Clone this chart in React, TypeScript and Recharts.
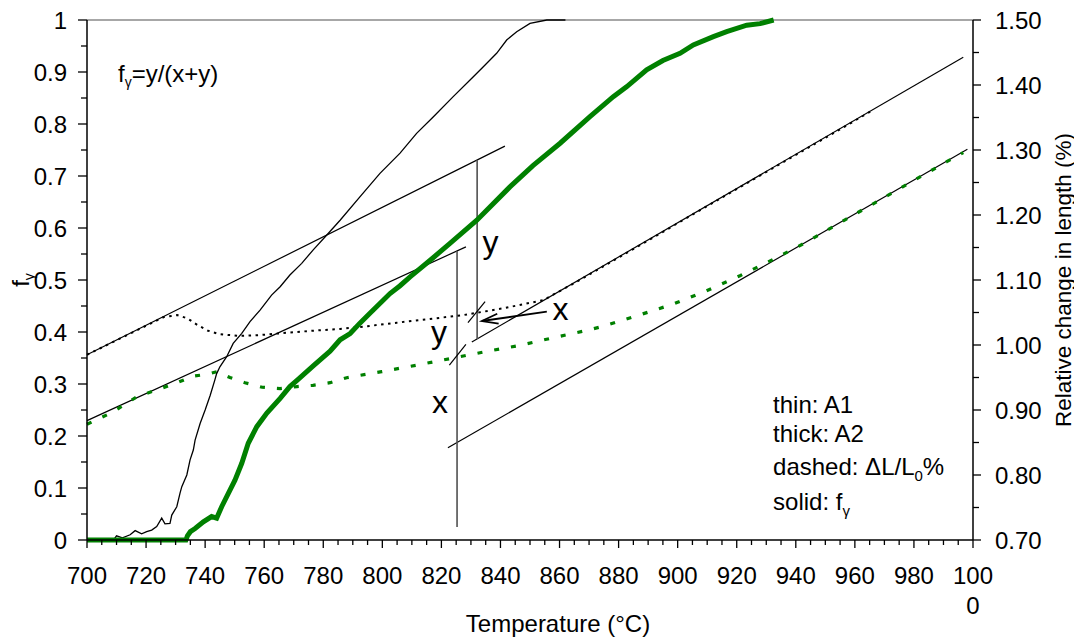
import {
  ComposedChart,
  Line,
  ReferenceDot,
  ReferenceLine,
  XAxis,
  YAxis,
} from 'recharts';

type Pt = [number, number];

// austenite fraction f_gamma vs temperature (left axis)
const fA1: Pt[] = [
  [700, 0], [709, 0], [710, 0.008], [712, 0.004], [714.6, 0.01], [716.3, 0.018],
  [718.5, 0.012], [720.2, 0.016], [721.9, 0.019], [723.6, 0.026], [725.3, 0.042],
  [726.4, 0.031], [728.1, 0.032], [728.7, 0.048], [730.4, 0.064], [731.5, 0.09],
  [732.1, 0.1025], [733.8, 0.125], [734.9, 0.154], [736, 0.173], [736.6, 0.192],
  [738.3, 0.224], [740, 0.25], [741.7, 0.278], [743.3, 0.308], [743.9, 0.32],
  [745, 0.333], [747.3, 0.3525], [749.5, 0.378], [752.4, 0.3975], [755.2, 0.42],
  [758.6, 0.442], [762.5, 0.471], [765.4, 0.487], [768.7, 0.5096], [772.7, 0.532],
  [776.6, 0.558], [781.2, 0.5865], [785.7, 0.615], [792.4, 0.66], [799.2, 0.705],
  [806, 0.744], [811.6, 0.782], [817.3, 0.814], [824, 0.8526], [829.7, 0.8846],
  [834.2, 0.91], [838.7, 0.936], [842.1, 0.9615], [845.5, 0.9775], [850, 0.9936],
  [855.7, 1.0], [862, 1.0],
];
const fA2: Pt[] = [
  [700, 0], [733.5, 0], [734, 0.008], [735, 0.016], [736.6, 0.022], [739.4, 0.035],
  [742.2, 0.045], [743.9, 0.042], [745.6, 0.064], [747.9, 0.09], [750.1, 0.115],
  [752.4, 0.1475], [754.6, 0.186], [757.5, 0.218], [760.9, 0.244], [765.4, 0.2725],
  [768.7, 0.295], [771.3, 0.308], [776.6, 0.335], [782.3, 0.363], [785.7, 0.385],
  [789.1, 0.397], [792.4, 0.417], [795.8, 0.436], [802.6, 0.474], [806, 0.489],
  [809.4, 0.506], [816.2, 0.538], [822.9, 0.5705], [832, 0.615], [843.2, 0.679],
  [851, 0.72], [860.2, 0.763], [870.3, 0.814], [878.2, 0.8526], [882.8, 0.872],
  [889.5, 0.904], [895, 0.922], [900.8, 0.936], [905.3, 0.952], [912.1, 0.968],
  [916.6, 0.9775], [923.4, 0.99], [927.9, 0.993], [932.5, 1.0],
];

// relative change in length dL/L0 in % (right axis)
const dlA1: Pt[] = [
  [700, 0.985], [726, 1.043], [730.5, 1.046], [734, 1.041], [737.3, 1.031],
  [741, 1.022], [745, 1.0165], [751.8, 1.014], [758, 1.015], [765.4, 1.018],
  [776.5, 1.022], [785.7, 1.0246], [795, 1.029], [804.9, 1.0343], [816, 1.04],
  [827.4, 1.046], [841, 1.0565], [854.5, 1.069], [866.9, 1.1], [901.9, 1.1923],
  [966.2, 1.3615],
];
const dlA2: Pt[] = [
  [700, 0.878], [708.8, 0.897], [716.9, 0.9205], [723.7, 0.931], [730.5, 0.942],
  [735.9, 0.952], [740.6, 0.955], [744, 0.959], [748.4, 0.95], [753.5, 0.942],
  [759.3, 0.935], [765.4, 0.933], [771.1, 0.936], [776.5, 0.938], [782.3, 0.942],
  [787.9, 0.9497], [799.8, 0.959], [811.6, 0.969], [823.5, 0.9795], [834.8, 0.9897],
  [846.6, 0.9995], [857.9, 1.0112], [869.8, 1.023], [875.4, 1.0297], [886.9, 1.046],
  [898.5, 1.063], [909.8, 1.0835], [921.1, 1.1066], [932.4, 1.1318], [943.1, 1.157],
  [959, 1.1985], [974.7, 1.2395], [991.1, 1.282], [996.7, 1.296],
];

// straight-line fits to the ferrite and austenite branches
const tanA1Ferrite: Pt[] = [[700, 0.985], [841.5, 1.306]];
const tanA1Austenite: Pt[] = [[830.3, 1.0046], [996.7, 1.4426]];
const tanA2Ferrite: Pt[] = [[700, 0.8837], [828.3, 1.151]];
const tanA2Austenite: Pt[] = [[822.2, 0.8418], [998.1, 1.301]];

// lever-rule construction
const leverA1: Pt[] = [[832.1, 1.2846], [832.1, 1.0092]];
const leverA2: Pt[] = [[825.3, 1.1447], [825.3, 0.72]];
const markA1: Pt[] = [[829, 1.0343], [834.8, 1.0666]];
const markA2: Pt[] = [[822.7, 0.969], [828.3, 1.001]];
const arrowX: Pt[] = [[855.7, 1.0512], [833.7, 1.0369]];

// in-plot letters: [temperature, f]
const leverLabels: { text: string; at: Pt }[] = [
  { text: 'y', at: [836.6, 0.5513] },
  { text: 'x', at: [860.3, 0.4231] },
  { text: 'y', at: [819.2, 0.3796] },
  { text: 'x', at: [819.5, 0.2437] },
];
const notePos: Pt[] = [[932.3, 0.2442], [932.3, 0.1885], [932.3, 0.125], [932.3, 0.0577]];
const formulaPos: Pt = [710.5, 0.881];

// axis ticks (labelled ones); minor ticks sit in between
const tempMajor = [700, 720, 740, 760, 780, 800, 820, 840, 860, 880, 900, 920, 940, 960, 980, 1000];
const fMajor = [0, 0.1, 0.2, 0.3, 0.4, 0.5, 0.6, 0.7, 0.8, 0.9, 1];
const dlMajor = [0.7, 0.8, 0.9, 1.0, 1.1, 1.2, 1.3, 1.4, 1.5];

const withMinor = (major: number[], parts: number) => {
  const out: number[] = [];
  major.forEach((m, i) => {
    out.push(m);
    const next = major[i + 1];
    if (next === undefined) return;
    for (let k = 1; k < parts; k++) out.push(Math.round((m + ((next - m) * k) / parts) * 1000) / 1000);
  });
  return out;
};
const tempTicks = withMinor(tempMajor, 4);
const fTicks = withMinor(fMajor, 2);
const dlTicks = withMinor(dlMajor, 2);

const rows = (pts: Pt[]) => pts.map(([t, v]) => ({ t, v }));

const FONT = '"Liberation Sans", Arial, Helvetica, sans-serif';
const GREEN = '#008000';
const FS = 24;

const isMajor = (list: number[], v: number) => list.some((m) => Math.abs(m - v) < 1e-6);

function TempTick({ x, y, payload }: any) {
  const v = payload.value;
  const major = isMajor(tempMajor, v);
  return (
    <g>
      <line x1={x} y1={y} x2={x} y2={y + (major ? 8 : 5)} stroke="#000" strokeWidth={1.3} />
      {major && (
        <text x={x} y={y + 44} textAnchor="middle" fontSize={FS} fill="#000">
          {v === 1000 ? (
            <>
              <tspan x={x}>100</tspan>
              <tspan x={x} dy={30}>0</tspan>
            </>
          ) : (
            v
          )}
        </text>
      )}
    </g>
  );
}

function FTick({ x, y, payload }: any) {
  const v = payload.value;
  const major = isMajor(fMajor, v);
  return (
    <g>
      <line x1={x - (major ? 9 : 6)} y1={y} x2={x} y2={y} stroke="#000" strokeWidth={1.3} />
      {major && (
        <text x={x - 20} y={y} dy="0.36em" textAnchor="end" fontSize={FS} fill="#000">
          {String(v)}
        </text>
      )}
    </g>
  );
}

function DlTick({ x, y, payload }: any) {
  const v = payload.value;
  const major = isMajor(dlMajor, v);
  return (
    <g>
      <line x1={x} y1={y} x2={x + (major ? 8 : 6)} y2={y} stroke="#000" strokeWidth={1.3} />
      {major && (
        <text x={x + 22} y={y} dy="0.36em" textAnchor="start" fontSize={FS} fill="#000">
          {v.toFixed(2)}
        </text>
      )}
    </g>
  );
}

// axis titles sit at fixed spots in the chart's own coordinates
const tempTitle = () => (
  <text x={550} y={624} textAnchor="middle" fontSize={FS} fill="#000">
    Temperature (°C)
  </text>
);
const fTitle = () => (
  <text x={21} y={272} transform="rotate(-90, 21, 272)" textAnchor="middle" fontSize={FS} fill="#000">
    f<tspan fontSize={14} dy={5}>γ</tspan>
  </text>
);
const dlTitle = () => (
  <text x={1063} y={272} transform="rotate(-90, 1063, 272)" textAnchor="middle" fontSize={22.5} fill="#000">
    Relative change in length (%)
  </text>
);

function ArrowShape(p: any) {
  const { x1, y1, x2, y2 } = p;
  const a = Math.atan2(y2 - y1, x2 - x1);
  const len = 17;
  const spread = 0.3;
  const b1 = [x2 - len * Math.cos(a - spread), y2 - len * Math.sin(a - spread)];
  const b2 = [x2 - len * Math.cos(a + spread), y2 - len * Math.sin(a + spread)];
  return (
    <g stroke="#000" strokeWidth={1.8} fill="none">
      <line x1={x1} y1={y1} x2={x2} y2={y2} />
      <polyline points={`${b1[0]},${b1[1]} ${x2},${y2} ${b2[0]},${b2[1]}`} />
    </g>
  );
}

const seg = (pts: Pt[], stroke = '#000', width = 1.2) => (
  <Line
    data={rows(pts)}
    dataKey="v"
    yAxisId="dl"
    type="linear"
    stroke={stroke}
    strokeWidth={width}
    dot={false}
    activeDot={false}
    isAnimationActive={false}
  />
);

const noteLines = [
  <>thin: A1</>,
  <>thick: A2</>,
  <>
    dashed: ΔL/L<tspan fontSize={15} dy={6}>0</tspan>
    <tspan dy={-6}>%</tspan>
  </>,
  <>
    solid: f<tspan fontSize={15} dy={6}>γ</tspan>
  </>,
];

export default function App() {
  return (
    <div style={{ width: 1074, height: 631, fontFamily: FONT }}>
      <ComposedChart width={1074} height={631} margin={{ top: 12, right: 0, bottom: 0, left: 0 }}>
        <XAxis
          dataKey="t"
          type="number"
          domain={[700, 1000]}
          ticks={tempTicks}
          interval={0}
          tickSize={0}
          tickMargin={0}
          tickLine={false}
          tick={(props: any) => <TempTick {...props} />}
          axisLine={{ stroke: '#000', strokeWidth: 1.5 }}
          height={99}
          label={tempTitle}
        />
        <YAxis
          yAxisId="f"
          type="number"
          domain={[0, 1]}
          ticks={fTicks}
          interval={0}
          tickSize={0}
          tickMargin={0}
          tickLine={false}
          tick={(props: any) => <FTick {...props} />}
          axisLine={{ stroke: '#000', strokeWidth: 1.5 }}
          width={79}
          label={fTitle}
        />
        <YAxis
          yAxisId="dl"
          orientation="right"
          type="number"
          domain={[0.7, 1.5]}
          ticks={dlTicks}
          interval={0}
          tickSize={0}
          tickMargin={0}
          tickLine={false}
          tick={(props: any) => <DlTick {...props} />}
          axisLine={{ stroke: '#000', strokeWidth: 1.5 }}
          width={109}
          label={dlTitle}
        />

        <ReferenceLine yAxisId="f" y={1} stroke="#8a8a8a" strokeWidth={1.5} />

        {seg(tanA1Ferrite)}
        {seg(tanA1Austenite)}
        {seg(tanA2Ferrite)}
        {seg(tanA2Austenite)}
        {seg(leverA1, '#505050', 1.6)}
        {seg(leverA2, '#505050', 1.6)}
        {seg(markA1, '#000', 1.2)}
        {seg(markA2, '#000', 1.2)}

        <Line
          data={rows(dlA1)}
          dataKey="v"
          yAxisId="dl"
          type="linear"
          stroke="#000"
          strokeWidth={2}
          strokeDasharray="2.5 4.5"
          dot={false}
          activeDot={false}
          isAnimationActive={false}
        />
        <Line
          data={rows(dlA2)}
          dataKey="v"
          yAxisId="dl"
          type="linear"
          stroke={GREEN}
          strokeWidth={3.2}
          strokeDasharray="5 12"
          dot={false}
          activeDot={false}
          isAnimationActive={false}
        />
        <Line
          data={rows(fA1)}
          dataKey="v"
          yAxisId="f"
          type="linear"
          stroke="#000"
          strokeWidth={1.3}
          dot={false}
          activeDot={false}
          isAnimationActive={false}
        />
        <Line
          data={rows(fA2)}
          dataKey="v"
          yAxisId="f"
          type="linear"
          stroke={GREEN}
          strokeWidth={5}
          dot={false}
          activeDot={false}
          isAnimationActive={false}
        />

        <ReferenceLine
          yAxisId="dl"
          segment={[
            { x: arrowX[0][0], y: arrowX[0][1] },
            { x: arrowX[1][0], y: arrowX[1][1] },
          ]}
          shape={ArrowShape}
        />

        {leverLabels.map((l, i) => (
          <ReferenceDot
            key={`lv${i}`}
            yAxisId="f"
            x={l.at[0]}
            y={l.at[1]}
            r={0}
            shape={(p: any) => (
              <text x={p.cx} y={p.cy} textAnchor="middle" fontSize={32} fill="#000">
                {l.text}
              </text>
            )}
          />
        ))}

        {notePos.map((pos, i) => (
          <ReferenceDot
            key={`note${i}`}
            yAxisId="f"
            x={pos[0]}
            y={pos[1]}
            r={0}
            shape={(p: any) => (
              <text x={p.cx} y={p.cy} textAnchor="start" fontSize={FS} fill="#000">
                {noteLines[i]}
              </text>
            )}
          />
        ))}

        <ReferenceDot
          yAxisId="f"
          x={formulaPos[0]}
          y={formulaPos[1]}
          r={0}
          shape={(p: any) => (
            <text x={p.cx} y={p.cy} textAnchor="start" fontSize={FS} fill="#000">
              f<tspan fontSize={14} dy={5}>γ</tspan>
              <tspan dy={-5}>=y/(x+y)</tspan>
            </text>
          )}
        />
      </ComposedChart>
    </div>
  );
}
